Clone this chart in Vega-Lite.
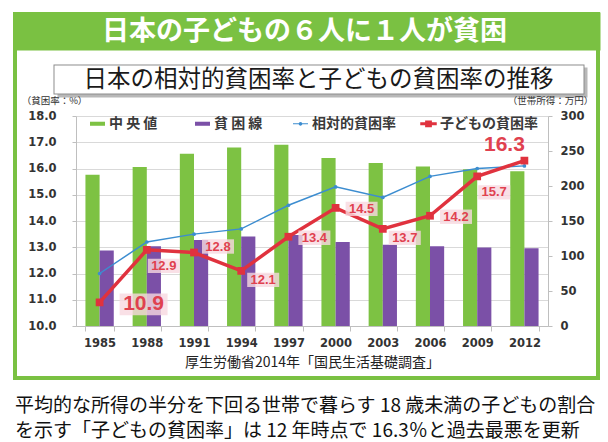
{
  "$schema": "https://vega.github.io/schema/vega-lite/v6.json",
  "width": 583,
  "height": 364,
  "autosize": {"type": "none"},
  "padding": {"left": 15, "top": 14, "right": 10, "bottom": 64},
  "background": "white",
  "view": {"stroke": "#7ac142", "strokeWidth": 4, "fill": "white"},
  "config": {"font": "Noto Sans CJK JP"},
  "title": {
    "text": ["平均的な所得の半分を下回る世帯で暮らす 18 歳未満の子どもの割合", "を示す「子どもの貧困率」は 12 年時点で 16.3％と過去最悪を更新"],
    "orient": "bottom",
    "anchor": "start",
    "frame": "group",
    "offset": 19,
    "fontSize": 19,
    "font": "Noto Sans CJK JP",
    "fontWeight": "normal",
    "color": "#111111",
    "lineHeight": 25
  },
  "datasets": {
    "header": [{"k": "h"}],
    "income": [
      {"year": "1985", "series": "中央値", "value": 216},
      {"year": "1988", "series": "中央値", "value": 227},
      {"year": "1991", "series": "中央値", "value": 246},
      {"year": "1994", "series": "中央値", "value": 255},
      {"year": "1997", "series": "中央値", "value": 259},
      {"year": "2000", "series": "中央値", "value": 240},
      {"year": "2003", "series": "中央値", "value": 233},
      {"year": "2006", "series": "中央値", "value": 228},
      {"year": "2009", "series": "中央値", "value": 224},
      {"year": "2012", "series": "中央値", "value": 221},
      {"year": "1985", "series": "貧困線", "value": 108},
      {"year": "1988", "series": "貧困線", "value": 114},
      {"year": "1991", "series": "貧困線", "value": 123},
      {"year": "1994", "series": "貧困線", "value": 128},
      {"year": "1997", "series": "貧困線", "value": 130},
      {"year": "2000", "series": "貧困線", "value": 120},
      {"year": "2003", "series": "貧困線", "value": 116},
      {"year": "2006", "series": "貧困線", "value": 114},
      {"year": "2009", "series": "貧困線", "value": 112},
      {"year": "2012", "series": "貧困線", "value": 111}
    ],
    "rates": [
      {"year": "1985", "rel": 12.0, "child": 10.9},
      {"year": "1988", "rel": 13.2, "child": 12.9},
      {"year": "1991", "rel": 13.5, "child": 12.8},
      {"year": "1994", "rel": 13.7, "child": 12.1},
      {"year": "1997", "rel": 14.6, "child": 13.4},
      {"year": "2000", "rel": 15.3, "child": 14.5},
      {"year": "2003", "rel": 14.9, "child": 13.7},
      {"year": "2006", "rel": 15.7, "child": 14.2},
      {"year": "2009", "rel": 16.0, "child": 15.7},
      {"year": "2012", "rel": 16.1, "child": 16.3}
    ]
  },
  "resolve": {"scale": {"x": "independent"}},
  "layer": [
    {
      "data": {"name": "header"},
      "mark": {"type": "point", "opacity": 0},
      "encoding": {
        "x": {
          "field": "k", "type": "nominal",
          "scale": {"range": [-2, 585]},
          "axis": {
            "orient": "top", "offset": -17, "domainWidth": 38, "domainColor": "#7ac142",
            "ticks": false, "labels": false, "grid": false,
            "title": "日本の子どもの６人に１人が貧困",
            "titleColor": "white", "titleFontSize": 27, "titleFontWeight": "bold",
            "titleFont": "Noto Sans CJK JP", "titleX": 289, "titleY": 0,
            "titleAlign": "center", "titleBaseline": "middle", "titleAngle": 0
          }
        }
      }
    },
    {
      "data": {"name": "header"},
      "mark": {"type": "point", "opacity": 0},
      "encoding": {
        "x": {
          "field": "k", "type": "nominal",
          "scale": {"range": [42, 572]},
          "axis": {
            "orient": "top", "offset": -68, "domainWidth": 30, "domainColor": "#b8b8b8",
            "ticks": false, "labels": false, "grid": false, "title": null
          }
        }
      }
    },
    {
      "data": {"name": "header"},
      "mark": {"type": "point", "opacity": 0},
      "encoding": {
        "x": {
          "field": "k", "type": "nominal",
          "scale": {"range": [38, 569]},
          "axis": {
            "orient": "top", "offset": -65, "domainWidth": 30, "domainColor": "#8c8c8c",
            "ticks": false, "labels": false, "grid": false, "title": null
          }
        }
      }
    },
    {
      "data": {"name": "header"},
      "mark": {"type": "point", "opacity": 0},
      "encoding": {
        "x": {
          "field": "k", "type": "nominal",
          "scale": {"range": [39, 568]},
          "axis": {
            "orient": "top", "offset": -65, "domainWidth": 28, "domainColor": "white",
            "ticks": false, "labels": false, "grid": false,
            "title": "日本の相対的貧困率と子どもの貧困率の推移",
            "titleColor": "#1a1a1a", "titleFontSize": 23.5, "titleFontWeight": "normal",
            "titleFont": "Noto Sans CJK JP", "titleX": 303, "titleY": 0,
            "titleAlign": "center", "titleBaseline": "middle", "titleAngle": 0
          }
        }
      }
    },
    {
      "encoding": {
        "x": {
          "field": "year", "type": "ordinal",
          "scale": {"type": "band", "range": [61, 533], "paddingInner": 0.4, "paddingOuter": 0.2},
          "axis": {
            "orient": "bottom", "offset": -52, "tickBand": "extent",
            "domainColor": "#bfbfbf", "tickColor": "#bfbfbf", "tickSize": 5, "labelAngle": 0,
            "labelFont": "DejaVu Sans", "labelFontWeight": "bold", "labelFontSize": 11.5,
            "labelColor": "#333333", "labelPadding": 6,
            "title": "厚生労働省2014年「国民生活基礎調査」",
            "titleFont": "Noto Sans CJK JP", "titleFontSize": 14, "titleFontWeight": "normal",
            "titleColor": "#222222", "titlePadding": 7, "grid": false
          }
        }
      },
      "resolve": {"scale": {"y": "independent"}},
      "layer": [
        {
          "data": {"name": "income"},
          "mark": {"type": "bar"},
          "encoding": {
            "xOffset": {"field": "series", "type": "nominal", "scale": {"domain": ["中央値", "貧困線"], "paddingInner": 0, "paddingOuter": 0}},
            "y": {
              "field": "value", "type": "quantitative",
              "scale": {"domain": [0, 300], "range": [312, 102], "nice": false},
              "axis": {
                "orient": "right", "offset": -50, "values": [0, 50, 100, 150, 200, 250, 300], "format": "d",
                "grid": false, "domainColor": "#bfbfbf", "tickColor": "#bfbfbf", "tickSize": 4,
                "labelFont": "DejaVu Sans", "labelFontWeight": "bold", "labelFontSize": 11.5,
                "labelColor": "#333333", "labelPadding": 8,
                "title": "（世帯所得：万円）", "titleAngle": 0, "titleX": 2, "titleY": 86,
                "titleAlign": "center", "titleBaseline": "middle", "titleFontSize": 9.5,
                "titleFontWeight": "normal", "titleFont": "Noto Sans CJK JP", "titleColor": "#333333"
              }
            },
            "color": {
              "field": "series", "type": "nominal",
              "scale": {"domain": ["中央値", "貧困線", "相対的貧困率", "子どもの貧困率"], "range": ["#7dc243", "#7b50a7", "#3c8dd0", "#e0323e"]},
              "legend": {
                "orient": "none", "legendX": 75, "legendY": 102, "direction": "horizontal", "columns": 4,
                "columnPadding": 24, "title": null, "symbolSize": 225, "symbolStrokeWidth": 0,
                "labelFontSize": 14, "labelFont": "Noto Sans CJK JP", "labelFontWeight": "bold",
                "labelColor": "#3a3a3a", "labelOffset": 4, "padding": 0,
                "labelExpr": "datum.label == '中央値' ? '中   央   値' : datum.label == '貧困線' ? '貧  困  線' : datum.label",
                "encode": {
                  "symbols": {
                    "update": {
                      "shape": {"signal": "datum.value == '相対的貧困率' ? 'M-1,-0.07H1V0.07H-1Z M0.25,0A0.25,0.25 0 1,1 -0.25,0A0.25,0.25 0 1,1 0.25,0Z' : datum.value == '子どもの貧困率' ? 'M-1.1,-0.2H1.1V0.2H-1.1Z M-0.45,-0.45H0.45V0.45H-0.45Z' : 'M-1,-0.27H1V0.27H-1Z'"}
                    }
                  }
                }
              }
            }
          }
        },
        {
          "data": {"name": "rates"},
          "mark": {"type": "line", "color": "#3c8dd0", "strokeWidth": 1.5},
          "encoding": {
            "y": {
              "field": "rel", "type": "quantitative",
              "scale": {"domain": [10, 18], "range": [312, 102], "nice": false, "zero": false},
              "axis": {
                "orient": "left", "offset": -61, "values": [10, 11, 12, 13, 14, 15, 16, 17, 18], "format": ".1f",
                "grid": true, "gridColor": "#d9d9d9", "domainColor": "#bfbfbf", "tickColor": "#bfbfbf", "tickSize": 4,
                "labelFont": "DejaVu Sans", "labelFontWeight": "bold", "labelFontSize": 11.5,
                "labelColor": "#333333", "labelPadding": 16,
                "title": "（貧困率：%）", "titleAngle": 0, "titleX": -22, "titleY": 86,
                "titleAlign": "center", "titleBaseline": "middle", "titleFontSize": 9.5,
                "titleFontWeight": "normal", "titleFont": "Noto Sans CJK JP", "titleColor": "#333333"
              }
            }
          }
        },
        {
          "data": {"name": "rates"},
          "mark": {"type": "point", "shape": "circle", "filled": true, "color": "#3c8dd0", "size": 14, "opacity": 1},
          "encoding": {"y": {"field": "rel", "type": "quantitative", "scale": {"domain": [10, 18], "range": [312, 102], "nice": false, "zero": false}, "axis": null}}
        },
        {
          "data": {"name": "rates"},
          "mark": {"type": "line", "color": "#e0323e", "strokeWidth": 3.5},
          "encoding": {"y": {"field": "child", "type": "quantitative", "scale": {"domain": [10, 18], "range": [312, 102], "nice": false, "zero": false}, "axis": null}}
        },
        {
          "data": {"name": "rates"},
          "mark": {"type": "point", "shape": "square", "filled": true, "color": "#e0323e", "size": 60, "opacity": 1},
          "encoding": {"y": {"field": "child", "type": "quantitative", "scale": {"domain": [10, 18], "range": [312, 102], "nice": false, "zero": false}, "axis": null}}
        },
        {
          "data": {"name": "rates"},
          "transform": [{"filter": {"field": "year", "oneOf": ["1985"]}}],
          "encoding": {"y": {"field": "child", "type": "quantitative", "scale": {"domain": [10, 18], "range": [312, 102], "nice": false, "zero": false}, "axis": null}},
          "layer": [
            {"mark": {"type": "point", "shape": "M-1,-0.45H1V0.45H-1Z", "filled": true, "fill": "#f8d8e0", "opacity": 0.8, "size": 2304, "strokeWidth": 0, "xOffset": 44, "yOffset": 2}},
            {"mark": {"type": "text", "font": "Liberation Sans", "fontWeight": "bold", "fontSize": 21, "color": "#e0414f", "xOffset": 44, "yOffset": 2}, "encoding": {"text": {"field": "child", "type": "quantitative", "format": ".1f"}}}
          ]
        },
        {
          "data": {"name": "rates"},
          "transform": [{"filter": {"field": "year", "oneOf": ["2012"]}}],
          "mark": {"type": "text", "font": "Liberation Sans", "fontWeight": "bold", "fontSize": 21, "color": "#e0414f", "xOffset": -20, "yOffset": -16},
          "encoding": {
            "y": {"field": "child", "type": "quantitative", "scale": {"domain": [10, 18], "range": [312, 102], "nice": false, "zero": false}, "axis": null},
            "text": {"field": "child", "type": "quantitative", "format": ".1f"}
          }
        },
        {
          "data": {"name": "rates"},
          "transform": [{"filter": {"field": "year", "oneOf": ["1994", "2003"]}}],
          "encoding": {"y": {"field": "child", "type": "quantitative", "scale": {"domain": [10, 18], "range": [312, 102], "nice": false, "zero": false}, "axis": null}},
          "layer": [
            {"mark": {"type": "point", "shape": "M-1,-0.45H1V0.45H-1Z", "filled": true, "fill": "#f8d8e0", "opacity": 0.8, "size": 1024, "strokeWidth": 0, "xOffset": 22, "yOffset": 9}},
            {"mark": {"type": "text", "font": "Liberation Sans", "fontWeight": "bold", "fontSize": 13, "color": "#e0414f", "xOffset": 22, "yOffset": 9}, "encoding": {"text": {"field": "child", "type": "quantitative", "format": ".1f"}}}
          ]
        },
        {
          "data": {"name": "rates"},
          "transform": [{"filter": {"field": "year", "oneOf": ["1997", "2000", "2006"]}}],
          "encoding": {"y": {"field": "child", "type": "quantitative", "scale": {"domain": [10, 18], "range": [312, 102], "nice": false, "zero": false}, "axis": null}},
          "layer": [
            {"mark": {"type": "point", "shape": "M-1,-0.45H1V0.45H-1Z", "filled": true, "fill": "#f8d8e0", "opacity": 0.8, "size": 1024, "strokeWidth": 0, "xOffset": 26, "yOffset": 1}},
            {"mark": {"type": "text", "font": "Liberation Sans", "fontWeight": "bold", "fontSize": 13, "color": "#e0414f", "xOffset": 26, "yOffset": 1}, "encoding": {"text": {"field": "child", "type": "quantitative", "format": ".1f"}}}
          ]
        },
        {
          "data": {"name": "rates"},
          "transform": [{"filter": {"field": "year", "oneOf": ["1991"]}}],
          "encoding": {"y": {"field": "child", "type": "quantitative", "scale": {"domain": [10, 18], "range": [312, 102], "nice": false, "zero": false}, "axis": null}},
          "layer": [
            {"mark": {"type": "point", "shape": "M-1,-0.45H1V0.45H-1Z", "filled": true, "fill": "#f8d8e0", "opacity": 0.8, "size": 1024, "strokeWidth": 0, "xOffset": 24, "yOffset": -6}},
            {"mark": {"type": "text", "font": "Liberation Sans", "fontWeight": "bold", "fontSize": 13, "color": "#e0414f", "xOffset": 24, "yOffset": -6}, "encoding": {"text": {"field": "child", "type": "quantitative", "format": ".1f"}}}
          ]
        },
        {
          "data": {"name": "rates"},
          "transform": [{"filter": {"field": "year", "oneOf": ["1988", "2009"]}}],
          "encoding": {"y": {"field": "child", "type": "quantitative", "scale": {"domain": [10, 18], "range": [312, 102], "nice": false, "zero": false}, "axis": null}},
          "layer": [
            {"mark": {"type": "point", "shape": "M-1,-0.45H1V0.45H-1Z", "filled": true, "fill": "#f8d8e0", "opacity": 0.8, "size": 1024, "strokeWidth": 0, "xOffset": 17, "yOffset": 16}},
            {"mark": {"type": "text", "font": "Liberation Sans", "fontWeight": "bold", "fontSize": 13, "color": "#e0414f", "xOffset": 17, "yOffset": 16}, "encoding": {"text": {"field": "child", "type": "quantitative", "format": ".1f"}}}
          ]
        }
      ]
    }
  ]
}
